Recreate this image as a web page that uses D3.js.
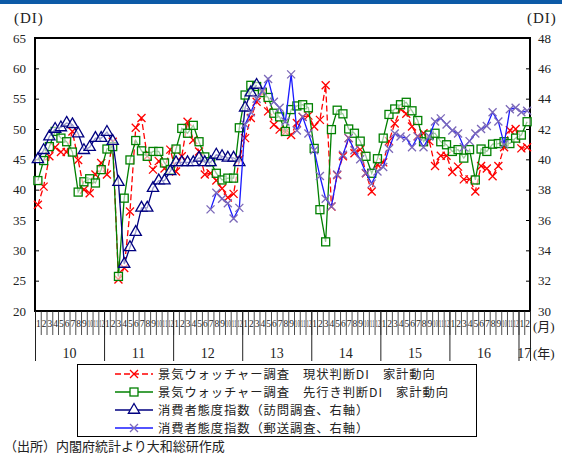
<!DOCTYPE html>
<html>
<head>
<meta charset="utf-8">
<script src="https://cdn.jsdelivr.net/npm/d3@7"></script>
<style>
  html, body { margin: 0; padding: 0; background: #fff; }
  svg { display: block; }
  text { font-family: "Liberation Serif", "Noto Sans CJK JP", serif; fill: #222; }
  .jp { font-family: "Noto Sans CJK JP", sans-serif; }
</style>
</head>
<body>
<svg id="chart" width="562" height="455"></svg>
<script>
// Months: Jan 2010 .. Feb 2017
const years = ["10", "11", "12", "13", "14", "15", "16", "17"];
const monthsPerYear = [12, 12, 12, 12, 12, 12, 12, 2];
const monthLabels = [];
monthsPerYear.forEach(n => { for (let m = 1; m <= n; m++) monthLabels.push(String(m)); });

const leftTicks = [20, 25, 30, 35, 40, 45, 50, 55, 60, 65];
const rightTicks = [30, 32, 34, 36, 38, 40, 42, 44, 46, 48];

// 景気ウォッチャー調査 現状判断DI 家計動向 (left axis)
const currentDI = [
  37.5, 40.5, 45.5, 47.0, 46.2, 46.2, 49.6, 44.9, 40.0, 39.4, 42.5, 44.4,
  42.5, 47.9, 25.2, 27.1, 36.4, 50.2, 51.8, 45.5, 43.3, 44.7, 43.5, 46.6,
  43.0, 45.5, 51.2, 48.2, 46.3, 42.5, 42.7, 41.5, 40.2, 38.7, 39.3, 45.0,
  48.5, 51.8, 54.5, 55.9, 52.9, 50.7, 49.9, 49.5, 49.0, 51.0, 52.0, 52.2,
  50.4, 51.5, 57.2, 37.2, 42.4, 45.5, 48.5, 46.0, 46.6, 42.7, 39.7, 44.1,
  44.5, 48.0, 50.9, 53.3, 52.5, 50.4, 48.8, 49.3, 48.0, 43.9, 45.6, 45.6,
  42.9, 43.8, 41.7, 41.7, 39.7, 43.9, 43.5, 42.2, 43.9, 47.0, 49.8, 50.0,
  46.8, 47.0
];

// 景気ウォッチャー調査 先行き判断DI 家計動向 (left axis)
const outlookDI = [
  41.5, 44.8, 47.1, 49.6, 48.5, 47.9, 46.2, 39.6, 41.3, 41.8, 41.1, 43.3,
  46.7, 47.1, 25.7, 38.6, 44.9, 48.1, 46.4, 45.5, 46.3, 46.3, 44.4, 43.3,
  46.7, 50.1, 49.3, 50.6, 47.9, 45.4, 44.6, 42.7, 41.6, 41.9, 41.9, 50.2,
  55.6, 57.2, 57.0, 56.0, 55.2, 52.6, 52.0, 49.6, 53.2, 53.8, 54.0, 53.5,
  46.8, 36.7, 31.4, 49.9, 53.1, 52.5, 50.0, 49.3, 48.0, 45.5, 42.7, 45.1,
  48.5, 52.4, 53.3, 54.0, 54.4, 53.0, 51.4, 47.9, 49.0, 49.3, 47.9, 47.4,
  46.3, 46.6, 45.2, 46.6, 41.6, 46.7, 46.3, 47.5, 47.6, 47.9, 47.6, 48.5,
  49.0, 51.2
];

// 消費者態度指数（訪問調査） right axis, Jan 2010 .. Mar 2013
const visitIndex = [
  40.0, 40.6, 41.5, 42.0, 42.1, 42.4, 42.3, 41.7, 40.6, 40.8, 41.4, 41.4,
  41.8, 41.2, 38.5, 33.1, 34.2, 35.2, 36.8, 36.8, 38.1, 38.6, 38.6, 39.2,
  39.8, 39.8, 39.8, 39.8, 40.1, 39.8, 39.8, 40.3, 40.2, 40.1, 40.1, 39.8,
  43.4, 44.4, 44.9
];

// 消費者態度指数（郵送調査） right axis, Jul 2012 .. Feb 2017
const mailStart = 30;
const mailIndex = [
  36.7, 37.8, 37.4, 37.1, 36.1, 36.8,
  42.3, 43.1, 44.0, 44.5, 45.3, 43.8, 43.4, 42.5, 45.6, 41.9, 42.8, 41.7,
  40.6, 38.9, 37.4, 36.9, 39.0, 40.3, 41.4, 40.6, 40.0, 39.1, 38.4, 39.2,
  39.5, 40.7, 41.7, 41.5, 41.4, 40.8, 41.5, 40.8, 41.5, 42.5, 42.7, 42.3,
  41.9, 41.7, 40.8, 41.2, 41.7, 42.0, 42.2, 43.1, 42.5, 41.0, 43.3, 43.4,
  43.1, 43.2
];

const svg = d3.select("#chart");
const W = 562;
const plot = { left: 35, right: 530, top: 38, bottom: 311 };
const nMonths = monthLabels.length;

// header band
svg.append("rect").attr("x", 0).attr("y", 0).attr("width", W).attr("height", 4).attr("fill", "#0d5aa7");

const xEdge = d3.scaleLinear().domain([0, nMonths]).range([plot.left, plot.right]);
const xMid = i => xEdge(i + 0.5);
const yL = d3.scaleLinear().domain([20, 65]).range([plot.bottom, plot.top]);
const yR = d3.scaleLinear().domain([30, 48]).range([plot.bottom, plot.top]);

// frame
svg.append("rect")
  .attr("x", plot.left).attr("y", plot.top)
  .attr("width", plot.right - plot.left).attr("height", plot.bottom - plot.top)
  .attr("fill", "none").attr("stroke", "#000").attr("stroke-width", 2);

// left axis (ticks pointing inward)
const gL = svg.append("g").attr("transform", `translate(${plot.left},0)`)
  .call(d3.axisLeft(yL).tickValues(leftTicks).tickSize(-4).tickPadding(9).tickFormat(d3.format("d")));
gL.select(".domain").remove();
gL.selectAll("text").attr("font-size", 13).attr("font-family", "Liberation Serif").attr("fill", "#222");

// right axis
const gR = svg.append("g").attr("transform", `translate(${plot.right},0)`)
  .call(d3.axisRight(yR).tickValues(rightTicks).tickSize(-4).tickPadding(8).tickFormat(d3.format("d")));
gR.select(".domain").remove();
gR.selectAll("text").attr("font-size", 13).attr("font-family", "Liberation Serif").attr("fill", "#222");

svg.append("text").attr("x", 14).attr("y", 23).attr("font-size", 15).attr("letter-spacing", 1).text("(DI)");
svg.append("text").attr("x", 527).attr("y", 23).attr("font-size", 15).attr("letter-spacing", 1).text("(DI)");

// month boundary ticks through the month-label row
const gM = svg.append("g").attr("transform", `translate(0,${plot.bottom})`)
  .call(d3.axisBottom(xEdge).tickValues(d3.range(0, nMonths + 1)).tickSize(24).tickFormat(""));
gM.select(".domain").remove();
gM.selectAll("line").attr("stroke", "#222").attr("stroke-width", 0.8);

// month labels (two-digit months squeezed horizontally into one month's width)
const gML = svg.append("g").attr("transform", `translate(0,${plot.bottom})`)
  .call(d3.axisBottom(xEdge).tickValues(d3.range(0, nMonths).map(i => i + 0.5))
    .tickSize(0).tickPadding(9).tickFormat((d) => monthLabels[Math.floor(d)]));
gML.select(".domain").remove();
gML.selectAll("text").attr("font-size", 10.5).attr("font-family", "Liberation Serif").attr("fill", "#222")
  .attr("transform", d => monthLabels[Math.floor(d)].length > 1 ? "scale(0.48,1)" : "scale(0.9,1)");

// year boundaries and labels
const yearStart = [];
let acc = 0;
monthsPerYear.forEach(n => { yearStart.push(acc); acc += n; });
const gY = svg.append("g").attr("transform", `translate(0,${plot.bottom})`)
  .call(d3.axisBottom(xEdge).tickValues(yearStart.concat([nMonths])).tickSize(50).tickFormat(""));
gY.select(".domain").remove();
gY.selectAll("line").attr("stroke", "#222").attr("stroke-width", 1);

svg.append("g").selectAll("text").data(years).join("text")
  .attr("x", (d, k) => xEdge(yearStart[k] + monthsPerYear[k] / 2))
  .attr("y", 358).attr("text-anchor", "middle").attr("font-size", 14)
  .text(d => d);

svg.append("text").attr("x", 533).attr("y", 331).attr("font-size", 13).text("(月)");
svg.append("text").attr("x", 533).attr("y", 358).attr("font-size", 13).text("(年)");

// series
const line = (ys) => d3.line().x(d => xMid(d.i)).y(d => ys(d.v));
const pts = (arr, off) => arr.map((v, k) => ({ i: k + off, v }));

const cur = pts(currentDI, 0), out = pts(outlookDI, 0);
const vis = pts(visitIndex, 0), mail = pts(mailIndex, mailStart);

const colors = { cur: "#ff0000", out: "#008000", vis: "#000080", mailLine: "#1a1aff", mailMark: "#7b68b8" };

function xPath(cx, cy, r) {
  return `M${cx - r},${cy - r}L${cx + r},${cy + r}M${cx - r},${cy + r}L${cx + r},${cy - r}`;
}
function drawX(g, data, ys, color, r, w) {
  g.selectAll("path.mk").data(data).join("path").attr("class", "mk")
    .attr("d", d => xPath(xMid(d.i), ys(d.v), r))
    .attr("stroke", color).attr("stroke-width", w).attr("fill", "none");
}

const gCur = svg.append("g");
gCur.append("path").datum(cur).attr("d", line(yL)).attr("fill", "none")
  .attr("stroke", colors.cur).attr("stroke-width", 1.3).attr("stroke-dasharray", "6,3");
drawX(gCur, cur, yL, colors.cur, 4, 1.3);

const gOut = svg.append("g");
gOut.append("path").datum(out).attr("d", line(yL)).attr("fill", "none")
  .attr("stroke", colors.out).attr("stroke-width", 1.3);
gOut.selectAll("rect").data(out).join("rect")
  .attr("x", d => xMid(d.i) - 4).attr("y", d => yL(d.v) - 4)
  .attr("width", 8).attr("height", 8)
  .attr("fill", "#fff").attr("fill-opacity", 0.6).attr("stroke", colors.out).attr("stroke-width", 1.3);

const tri = d3.symbol().type(d3.symbolTriangle).size(55);
const gVis = svg.append("g");
gVis.append("path").datum(vis).attr("d", line(yR)).attr("fill", "none")
  .attr("stroke", colors.vis).attr("stroke-width", 1.3);
gVis.selectAll("path.mk").data(vis).join("path").attr("class", "mk")
  .attr("transform", d => `translate(${xMid(d.i)},${yR(d.v)})`)
  .attr("d", tri).attr("fill", "#fff").attr("fill-opacity", 0.6)
  .attr("stroke", colors.vis).attr("stroke-width", 1.3);

const gMail = svg.append("g");
gMail.append("path").datum(mail).attr("d", line(yR)).attr("fill", "none")
  .attr("stroke", colors.mailLine).attr("stroke-width", 1.3);
drawX(gMail, mail, yR, colors.mailMark, 4, 1.3);

// legend
const lg = svg.append("g");
lg.append("rect").attr("x", 77.5).attr("y", 364.5).attr("width", 399).attr("height", 72)
  .attr("fill", "#fff").attr("stroke", "#000").attr("stroke-width", 1);

const legendItems = [
  { label: "景気ウォッチャー調査　現状判断DI　家計動向", kind: "cur" },
  { label: "景気ウォッチャー調査　先行き判断DI　家計動向", kind: "out" },
  { label: "消費者態度指数（訪問調査、右軸）", kind: "vis" },
  { label: "消費者態度指数（郵送調査、右軸）", kind: "mail" }
];
legendItems.forEach((it, k) => {
  const cy = 374 + k * 18;
  const x0 = 115, x1 = 153, cx = 134;
  const g = lg.append("g");
  const ln = g.append("line").attr("x1", x0).attr("x2", x1).attr("y1", cy).attr("y2", cy).attr("stroke-width", 1.3);
  if (it.kind === "cur") {
    ln.attr("stroke", colors.cur).attr("stroke-dasharray", "6,3");
    g.append("path").attr("d", xPath(cx, cy, 4)).attr("stroke", colors.cur).attr("stroke-width", 1.3);
  } else if (it.kind === "out") {
    ln.attr("stroke", colors.out);
    g.append("rect").attr("x", cx - 4).attr("y", cy - 4).attr("width", 8).attr("height", 8)
      .attr("fill", "#fff").attr("stroke", colors.out).attr("stroke-width", 1.3);
  } else if (it.kind === "vis") {
    ln.attr("stroke", colors.vis);
    g.append("path").attr("transform", `translate(${cx},${cy})`).attr("d", tri)
      .attr("fill", "#fff").attr("stroke", colors.vis).attr("stroke-width", 1.3);
  } else {
    ln.attr("stroke", colors.mailLine);
    g.append("path").attr("d", xPath(cx, cy, 4)).attr("stroke", colors.mailMark).attr("stroke-width", 1.3);
  }
  g.append("text").attr("class", "jp").attr("x", 158).attr("y", cy + 4.5)
    .attr("font-size", 12.3).attr("letter-spacing", 0.9).text(it.label);
});

svg.append("text").attr("class", "jp").attr("x", 4).attr("y", 451).attr("font-size", 13)
  .text("（出所）内閣府統計より大和総研作成");
</script>
</body>
</html>
